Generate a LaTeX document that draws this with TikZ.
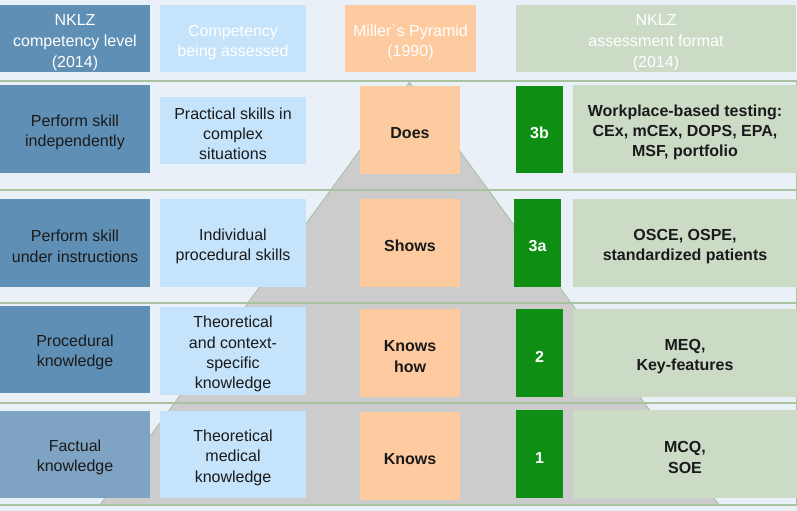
\documentclass[tikz,border=0pt]{standalone}
\usepackage{fontspec}
\setmainfont{Liberation Sans}[Ligatures=TeXOff]
\definecolor{bg}{HTML}{EAF0F7}
\definecolor{dblue}{HTML}{5F8FB5}
\definecolor{mblue}{HTML}{7FA3C3}
\definecolor{lblue}{HTML}{C5E3FB}
\definecolor{peach}{HTML}{FECBA0}
\definecolor{dgreen}{HTML}{0E8F14}
\definecolor{pgreen}{HTML}{CCDBC6}
\definecolor{pyr}{HTML}{CCCCCC}
\definecolor{sep}{HTML}{A9C2A2}
\definecolor{txt}{HTML}{1A1A1A}
\newcommand{\myTopStrut}{\rule{0pt}{13.5pt}}
\newcommand{\myHdrStrut}{\rule{0pt}{14.5pt}}
\begin{document}
\begin{tikzpicture}[x=0.75pt,y=-0.75pt,
  box/.style={rectangle, inner sep=0pt, align=center, text=txt,
    font=\fontsize{12}{15.2}\selectfont},
  sz/.style 2 args={minimum width=#1*0.75pt, minimum height=#2*0.75pt},
  hdr/.style={text=white, font=\fontsize{12}{15.7}\selectfont},
  c1/.style={box, fill=dblue, sz={150}{#1}},
  c2/.style={box, fill=lblue, sz={146}{#1}},
  c3/.style={box, fill=peach, sz={100}{88}, font=\bfseries\fontsize{12}{15.2}\selectfont},
  c4/.style={box, fill=dgreen, sz={47}{#1}, text=white, font=\bfseries\fontsize{12}{15.2}\selectfont},
  c5/.style={box, fill=pgreen, sz={224}{88}, font=\bfseries\fontsize{12}{15.2}\selectfont},
  sepline/.style={draw=sep, line width=1.1pt},
  edge/.style={draw=sep, line width=0.7pt}]
\fill[bg] (0,0) rectangle (797,511);
\useasboundingbox (0,0) rectangle (797,511);
% pyramid
\coordinate (apex) at (409.5,82.5);
\coordinate (bl) at (99.8,505);
\coordinate (br) at (719.2,505);
\fill[pyr] (apex) -- (bl) -- (br) -- cycle;
\draw[edge] (bl) -- (apex) -- (br);
% separators
\foreach \yy/\nm in {81/s0,190/s1,303/s2,403/s3,505/s4}{
  \coordinate (\nm l) at (0,\yy);
  \coordinate (\nm r) at (797,\yy);
  \draw[sepline] (\nm l) -- (\nm r);
}
\coordinate (rt) at (796.3,81);
\coordinate (rb) at (796.3,505);
\draw[edge] (rt) -- (rb);
% headers
\node[c1={67}, hdr] (h1) at (75,38.5) {\myHdrStrut NKLZ\\competency level\\(2014)};
\node[c2={67}, hdr] (h2) at (233,38.5) {\myHdrStrut Competency\\being assessed};
\node[box, fill=peach, sz={131}{67}, hdr] (h3) at (410.5,38.5) {\myHdrStrut Miller`s Pyramid\\(1990)};
\node[box, fill=pgreen, sz={280}{67}, hdr] (h4) at (656,38.5) {\myHdrStrut NKLZ\\assessment format\\(2014)};
% column 1
\node[c1={88}] (a1) at (75,129) {\myTopStrut Perform skill\\independently};
\node[c1={88}] (a2) at (75,243) {\myTopStrut Perform skill\\under instructions};
\node[c1={87}] (a3) at (75,349.5) {\myTopStrut Procedural\\knowledge};
\node[c1={87}, fill=mblue] (a4) at (75,454.5) {\myTopStrut Factual\\knowledge};
% column 2
\node[c2={67}] (b1) at (233,130.5) {\myTopStrut Practical skills in\\complex\\situations};
\node[c2={88}] (b2) at (233,243) {\myTopStrut Individual\\procedural skills};
\node[c2={88}] (b3) at (233,351) {\myTopStrut Theoretical\\and context-\\specific\\knowledge};
\node[c2={87}] (b4) at (233,454.5) {\myTopStrut Theoretical\\medical\\knowledge};
% Miller
\node[c3] (m1) at (410,130) {\myTopStrut Does};
\node[c3] (m2) at (410,243) {\myTopStrut Shows};
\node[c3] (m3) at (410,353) {\myTopStrut Knows\\how};
\node[c3] (m4) at (410,456) {\myTopStrut Knows};
% levels
\node[c4={87}] (l1) at (539.5,129.5) {\myTopStrut 3b};
\node[c4={88}] (l2) at (537.5,243) {\myTopStrut 3a};
\node[c4={88}] (l3) at (539.5,353) {\myTopStrut 2};
\node[c4={88}] (l4) at (539.5,454) {\myTopStrut 1};
% formats
\node[c5] (f1) at (685,129) {\myTopStrut Workplace-based testing:\\CEx, mCEx, DOPS, EPA,\\MSF, portfolio};
\node[c5] (f2) at (685,243) {\myTopStrut OSCE, OSPE,\\standardized patients};
\node[c5] (f3) at (685,353) {\myTopStrut MEQ,\\Key-features};
\node[c5] (f4) at (685,454) {\myTopStrut MCQ,\\SOE};
\end{tikzpicture}
\end{document}
